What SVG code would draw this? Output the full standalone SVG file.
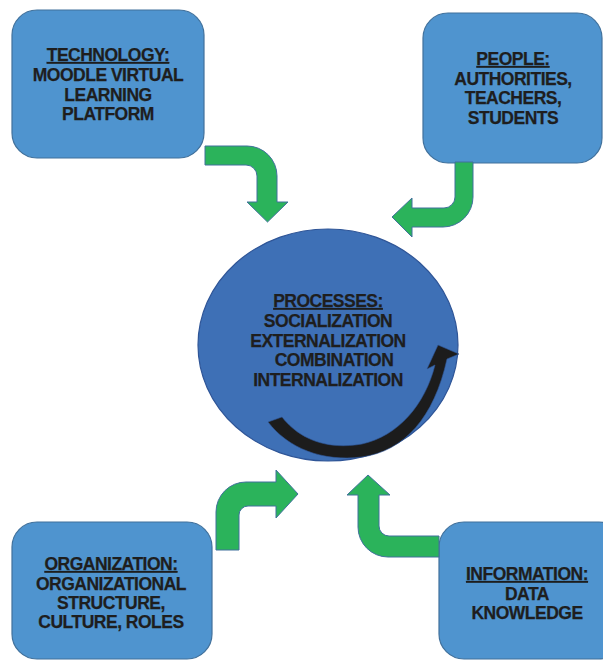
<svg xmlns="http://www.w3.org/2000/svg" width="603" height="660" viewBox="0 0 603 660">
<style>
.box{fill:#4f94cf;stroke:#41719c;stroke-width:1.2}
.circ{fill:#3e70b6;stroke:#2f5597;stroke-width:1.2}
.ga{fill:#2bb35b;stroke:#41719c;stroke-width:1}
.ba{fill:#1c1c1c;stroke:#2f5597;stroke-width:0.6}
text{font-family:"Liberation Sans",Arial,sans-serif;font-weight:bold;font-size:17.5px;letter-spacing:-0.5px;fill:#1e1e1e;stroke:#1e1e1e;stroke-width:0.25;text-anchor:middle}
.u{text-decoration:underline}
</style>
<rect width="603" height="660" fill="#ffffff"/>
<g id="technology">
<rect class="box" x="12" y="10" width="192" height="148" rx="25"/>
<text x="108" y="61" class="u">TECHNOLOGY:</text>
<text x="108" y="81">MOODLE VIRTUAL</text>
<text x="108" y="100.5">LEARNING</text>
<text x="108" y="120">PLATFORM</text>
</g>
<g id="people">
<rect class="box" x="423" y="13" width="179" height="150" rx="25"/>
<text x="513" y="65" class="u">PEOPLE:</text>
<text x="513" y="84.5">AUTHORITIES,</text>
<text x="513" y="104">TEACHERS,</text>
<text x="513" y="123.5">STUDENTS</text>
</g>
<g id="organization">
<rect class="box" x="12" y="522" width="200" height="137" rx="25"/>
<text x="111" y="570" class="u">ORGANIZATION:</text>
<text x="111" y="589.5">ORGANIZATIONAL</text>
<text x="111" y="608.5">STRUCTURE,</text>
<text x="111" y="628">CULTURE, ROLES</text>
</g>
<g id="information">
<rect class="box" x="439" y="522" width="185" height="137" rx="25"/>
<text x="527" y="580" class="u">INFORMATION:</text>
<text x="527" y="599.5">DATA</text>
<text x="527" y="618.5">KNOWLEDGE</text>
</g>
<g id="processes">
<ellipse class="circ" cx="328" cy="345" rx="130" ry="116"/>
<text x="328" y="307" class="u">PROCESSES:</text>
<text x="328" y="327">SOCIALIZATION</text>
<text x="328" y="346.5">EXTERNALIZATION</text>
<text x="334" y="366">COMBINATION</text>
<text x="328" y="385.5">INTERNALIZATION</text>
</g>
<g id="connectors">
<path class="ga" d="M205 146 H247 A30 30 0 0 1 277 176 V202 H288 L267.5 222 L247 202 H257 V176 A11 11 0 0 0 246 165 H205 Z"/>
<path class="ga" d="M455 162 H473 V197 A30 30 0 0 1 443 227 H412 V237 L392 217 L412 198 V208 H444 A11 11 0 0 0 455 197 Z"/>
<path class="ga" d="M216 550 V512 A30 30 0 0 1 246 482 H276 V470 L298 494 L276 518 V506 H248 A9 9 0 0 0 239 515 V550 Z"/>
<path class="ga" d="M439 536 H389 A10 10 0 0 1 379 526 V495 H390 L368 475 L347 495 H358 V527 A30 30 0 0 0 388 557 H439 Z"/>
<path class="ba" d="M268 422 C288 448 322 462 362 457 C404 451 434 418 447 359 L459 354 L438 345 L427 369 L435 365 C425 405 398 436 362 444 C328 450 300 440 282 417 Z"/>
</g>
</svg>
